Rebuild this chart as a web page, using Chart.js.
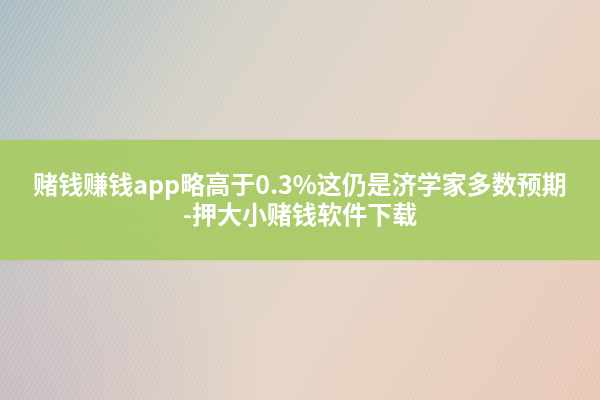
<!DOCTYPE html>
<html>
<head>
<meta charset="utf-8">
<script src="https://cdn.jsdelivr.net/npm/chart.js@4"></script>
<style>
  html, body { margin: 0; padding: 0; }
  body { width: 600px; height: 400px; overflow: hidden; }
  #wrap { width: 600px; height: 400px; position: relative; }
</style>
</head>
<body>
<div id="wrap"><canvas id="banner"></canvas></div>
<script>
/* ---- banner content ---- */
const bandLabels = ['band'];
const bandRange = [[140, 260]];          // top / bottom of the green strip, page units
const titleLines = ['赌钱赚钱app略高于0.3%这仍是济学家多数预期', '-押大小赌钱软件下载'];
const titleRows = [184, 214];

/* paints the textured paper behind everything */
const paperBg = {
  id: 'paperBg',
  beforeDraw(chart) {
    const { ctx, width, height } = chart;
    ctx.save();
    const g = ctx.createLinearGradient(0, 0, width, height);
    g.addColorStop(0, '#a9bcc4');
    g.addColorStop(0.3, '#d6d2c8');
    g.addColorStop(0.6, '#e6d5c6');
    g.addColorStop(1, '#e8c8b7');
    ctx.fillStyle = g;
    ctx.fillRect(0, 0, width, height);
    // faint purple tint bottom-left
    const r = ctx.createRadialGradient(0, height, 0, 0, height, 260);
    r.addColorStop(0, 'rgba(190,170,190,0.55)');
    r.addColorStop(1, 'rgba(190,170,190,0)');
    ctx.fillStyle = r;
    ctx.fillRect(0, 0, width, height);
    // diagonal brush strokes
    ctx.strokeStyle = 'rgba(255,255,255,0.18)';
    ctx.lineWidth = 1;
    for (let i = -height; i < width; i += 5) {
      ctx.beginPath();
      ctx.moveTo(i, height);
      ctx.lineTo(i + height * 0.55, 0);
      ctx.stroke();
    }
    ctx.restore();
  }
};

/* white title text on top of the strip */
const titleText = {
  id: 'titleText',
  afterDatasetsDraw(chart) {
    const { ctx } = chart;
    const y = chart.scales.y;
    ctx.save();
    ctx.fillStyle = '#ffffff';
    ctx.textAlign = 'center';
    ctx.textBaseline = 'middle';
    ctx.font = 'bold 25px "Noto Sans CJK SC", "Noto Sans", sans-serif';
    titleLines.forEach((line, i) => {
      ctx.fillText(line, chart.width / 2, y.getPixelForValue(titleRows[i]));
    });
    ctx.restore();
  }
};

new Chart(document.getElementById('banner'), {
  type: 'bar',
  data: {
    labels: bandLabels,
    datasets: [{
      data: bandRange,
      backgroundColor: 'rgba(168,203,100,0.93)',
      borderWidth: 0,
      borderSkipped: false,
      barPercentage: 1,
      categoryPercentage: 1
    }]
  },
  options: {
    responsive: true,
    maintainAspectRatio: false,
    animation: false,
    layout: { padding: 0 },
    plugins: { legend: { display: false }, tooltip: { enabled: false } },
    scales: {
      x: { display: false, offset: true },
      y: { display: false, min: 0, max: 400, reverse: true }
    }
  },
  plugins: [paperBg, titleText]
});
</script>
</body>
</html>
